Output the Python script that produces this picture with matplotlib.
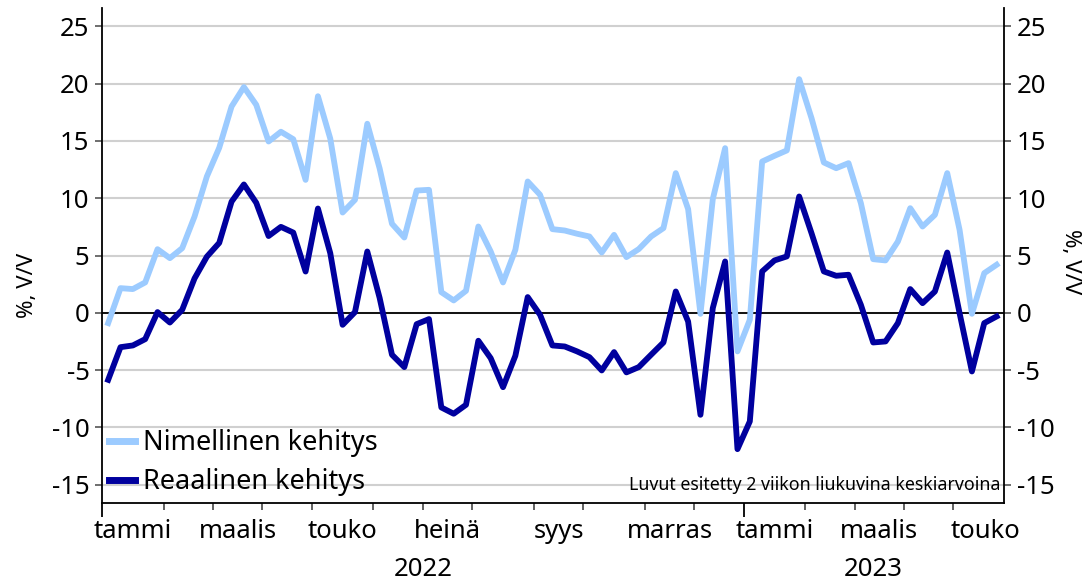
import matplotlib
matplotlib.use("Agg")
import matplotlib.pyplot as plt
import numpy as np

plt.rcParams['font.family'] = ['Noto Sans', 'DejaVu Sans']
plt.rcParams['axes.unicode_minus'] = False

# viikkodata, 2 viikon liukuva keskiarvo
nimellinen = [-0.9, 2.15, 2.07, 2.65, 5.55, 4.77, 5.64, 8.4, 11.9, 14.4,
              18.0, 19.7, 18.15, 14.95, 15.8, 15.15, 11.6, 18.9, 15.2, 8.75,
              9.86, 16.5, 12.6, 7.77, 6.57, 10.67, 10.73, 1.8, 1.08, 1.92,
              7.53, 5.35, 2.65, 5.5, 11.46, 10.3, 7.3, 7.18, 6.9, 6.66,
              5.26, 6.8, 4.86, 5.56, 6.66, 7.39, 12.19, 9.05, -0.09, 9.92,
              14.37, -3.37, -0.61, 13.2, 13.7, 14.17, 20.39, 16.99, 13.12, 12.62,
              13.06, 9.57, 4.68, 4.57, 6.22, 9.13, 7.53, 8.55, 12.19, 7.24,
              -0.09, 3.46, 4.19]
reaalinen = [-5.85, -3.0, -2.85, -2.3, 0.06, -0.85, 0.26, 3.0, 4.9, 6.1,
             9.7, 11.2, 9.6, 6.7, 7.5, 7.0, 3.6, 9.1, 5.2, -1.05,
             0.06, 5.35, 1.3, -3.66, -4.74, -0.99, -0.55, -8.26, -8.81, -8.03,
             -2.44, -3.96, -6.49, -3.75, 1.37, -0.17, -2.85, -2.94, -3.37, -3.87,
             -5.03, -3.43, -5.2, -4.74, -3.66, -2.59, 1.86, -0.76, -8.9, 0.41,
             4.48, -11.9, -9.48, 3.61, 4.57, 4.92, 10.15, 6.95, 3.61, 3.23,
             3.32, 0.7, -2.59, -2.5, -0.9, 2.07, 0.84, 1.86, 5.26, -0.03,
             -5.12, -0.9, -0.32]

# kuukausien ensimmäisen viikon indeksi (tammi 2022 ... touko 2023, loppu)
kk_alku = [0, 5, 9, 13, 17, 22, 26, 30, 35, 39, 44, 48, 52, 57, 61, 65, 69, 73]
kk_nimet = ['tammi', 'helmi', 'maalis', 'huhti', 'touko', 'kesä', 'heinä', 'elo',
            'syys', 'loka', 'marras', 'joulu', 'tammi', 'helmi', 'maalis', 'huhti', 'touko']
vuodet = ['2022', '2023']
vuosi_alku = [0, 52, 73]

x = np.arange(len(nimellinen))

fig = plt.figure(figsize=(10.92, 5.83), dpi=100)
ax = fig.add_axes([102 / 1092, 1 - 503 / 583, 902 / 1092, 495 / 583])

ax.plot(x, nimellinen, color='#9ccbff', lw=4.2, label='Nimellinen kehitys', zorder=3)
ax.plot(x, reaalinen, color='#00009e', lw=4.2, label='Reaalinen kehitys', zorder=4)

ax.set_xlim(-0.5, 72.6)
ax.set_ylim(-16.6, 26.6)
ax.set_yticks(np.arange(-15, 30, 5))
ax.grid(axis='y', color='#d0d0d0', lw=1.5)
ax.set_axisbelow(True)
ax.axhline(0, color='black', lw=1.3, zorder=2)

for s in ['left', 'right', 'bottom']:
    ax.spines[s].set_color('black')
    ax.spines[s].set_linewidth(1.3)
ax.spines['top'].set_visible(False)

ax.tick_params(axis='y', left=True, right=True, labelleft=True, labelright=True,
               labelsize=18.5, length=5, width=1.2, color='#555555', pad=4)

# x-akseli: kuukausirajat pieninä, vuosirajat isoina tikkeinä
ax.set_xticks([v - 0.5 for v in vuosi_alku[:-1]])
ax.set_xticks([v - 0.5 for v in kk_alku[1:-1] if v not in vuosi_alku], minor=True)
ax.tick_params(axis='x', which='major', length=10, width=1.3, labelbottom=False)
ax.tick_params(axis='x', which='minor', length=5, width=1.3, color='#555555')

for i in range(0, len(kk_nimet), 2):
    keski = (kk_alku[i] + kk_alku[i + 1]) / 2 - 0.5
    if i == len(kk_nimet) - 1:
        keski += 0.6
    ax.text(keski, -29 / 495, kk_nimet[i], transform=ax.get_xaxis_transform(),
            ha='center', va='center', fontsize=18.5)
for i, v in enumerate(vuodet):
    keski = (vuosi_alku[i] + vuosi_alku[i + 1]) / 2 - 0.5
    ax.text(keski, -67 / 495, v, transform=ax.get_xaxis_transform(),
            ha='center', va='center', fontsize=18.5)

fig.text(27 / 1092, 1 - 285 / 583, '%, V/V', rotation=90, ha='center', va='center', fontsize=16)
fig.text(1070 / 1092, 1 - 262 / 583, '%, V/V', rotation=270, ha='center', va='center', fontsize=16)

leg = ax.legend(loc='lower left', bbox_to_anchor=(0.0, 0.0), frameon=False, fontsize=19.5,
                handlelength=0.95, handletextpad=0.3, labelspacing=0.4, borderaxespad=0.15,
                borderpad=0.1)
for h in leg.legend_handles:
    h.set_linewidth(5)

ax.text(0.996, 18 / 495, 'Luvut esitetty 2 viikon liukuvina keskiarvoina',
        transform=ax.transAxes, ha='right', va='center', fontsize=12.8)

fig.savefig('out.png', dpi=100)
